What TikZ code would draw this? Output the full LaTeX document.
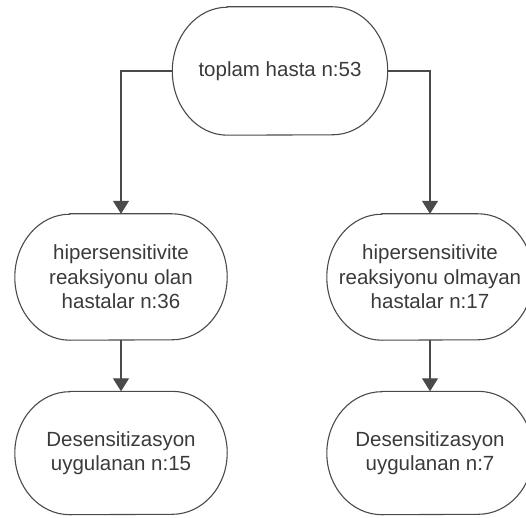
\documentclass[tikz,border=0pt]{standalone}
\usepackage{fontspec}
\setmainfont{Liberation Sans}
\usetikzlibrary{arrows.meta}
\definecolor{edgegray}{HTML}{4A4A4A}
\definecolor{txtgray}{HTML}{3A3A3A}
\tikzset{
  box/.style={draw=none, minimum width=212pt, minimum height=126pt, inner sep=0pt, align=center,
    text=txtgray, font=\fontsize{20.5}{24.5}\selectfont},
  outline/.style={draw=edgegray, line width=1.1pt},
  conn/.style={draw=edgegray, line width=1.1pt, -{Triangle[length=13pt,width=16pt]}}
}
\newcommand\ovaloutline[3]{%
  \draw[outline] ([xshift=#2]#1.north west) -- ([xshift=-#2]#1.north east)
    arc[start angle=90,end angle=-90,x radius=#2,y radius=#3]
    -- ([xshift=#2]#1.south west)
    arc[start angle=270,end angle=90,x radius=#2,y radius=#3] -- cycle;}
\begin{document}
\begin{tikzpicture}[x=1pt,y=1pt]
\useasboundingbox (0,0) rectangle (526,517);
\node[box, minimum width=215pt, minimum height=128pt] (top) at (280,446) {toplam hasta n:53};
\node[box] (ml) at (121,240) {hipersensitivite\\reaksiyonu olan\\hastalar n:36};
\node[box, minimum width=206pt] (mr) at (430,240) {hipersensitivite\\reaksiyonu olmayan\\hastalar n:17};
\node[box, minimum height=123pt] (bl) at (121,64) {Desensitizasyon\\uygulanan n:15};
\node[box, minimum width=206pt, minimum height=123pt] (br) at (430,64) {Desensitizasyon\\uygulanan n:7};
\ovaloutline{top}{55pt}{64pt}
\ovaloutline{ml}{55pt}{63pt}
\ovaloutline{mr}{55pt}{63pt}
\ovaloutline{bl}{55pt}{61.5pt}
\ovaloutline{br}{55pt}{61.5pt}
\draw[conn] (top.west) -| (ml.north);
\draw[conn] (top.east) -| (mr.north);
\draw[conn] (ml.south) -- (bl.north);
\draw[conn] (mr.south) -- (br.north);
\end{tikzpicture}
\end{document}
